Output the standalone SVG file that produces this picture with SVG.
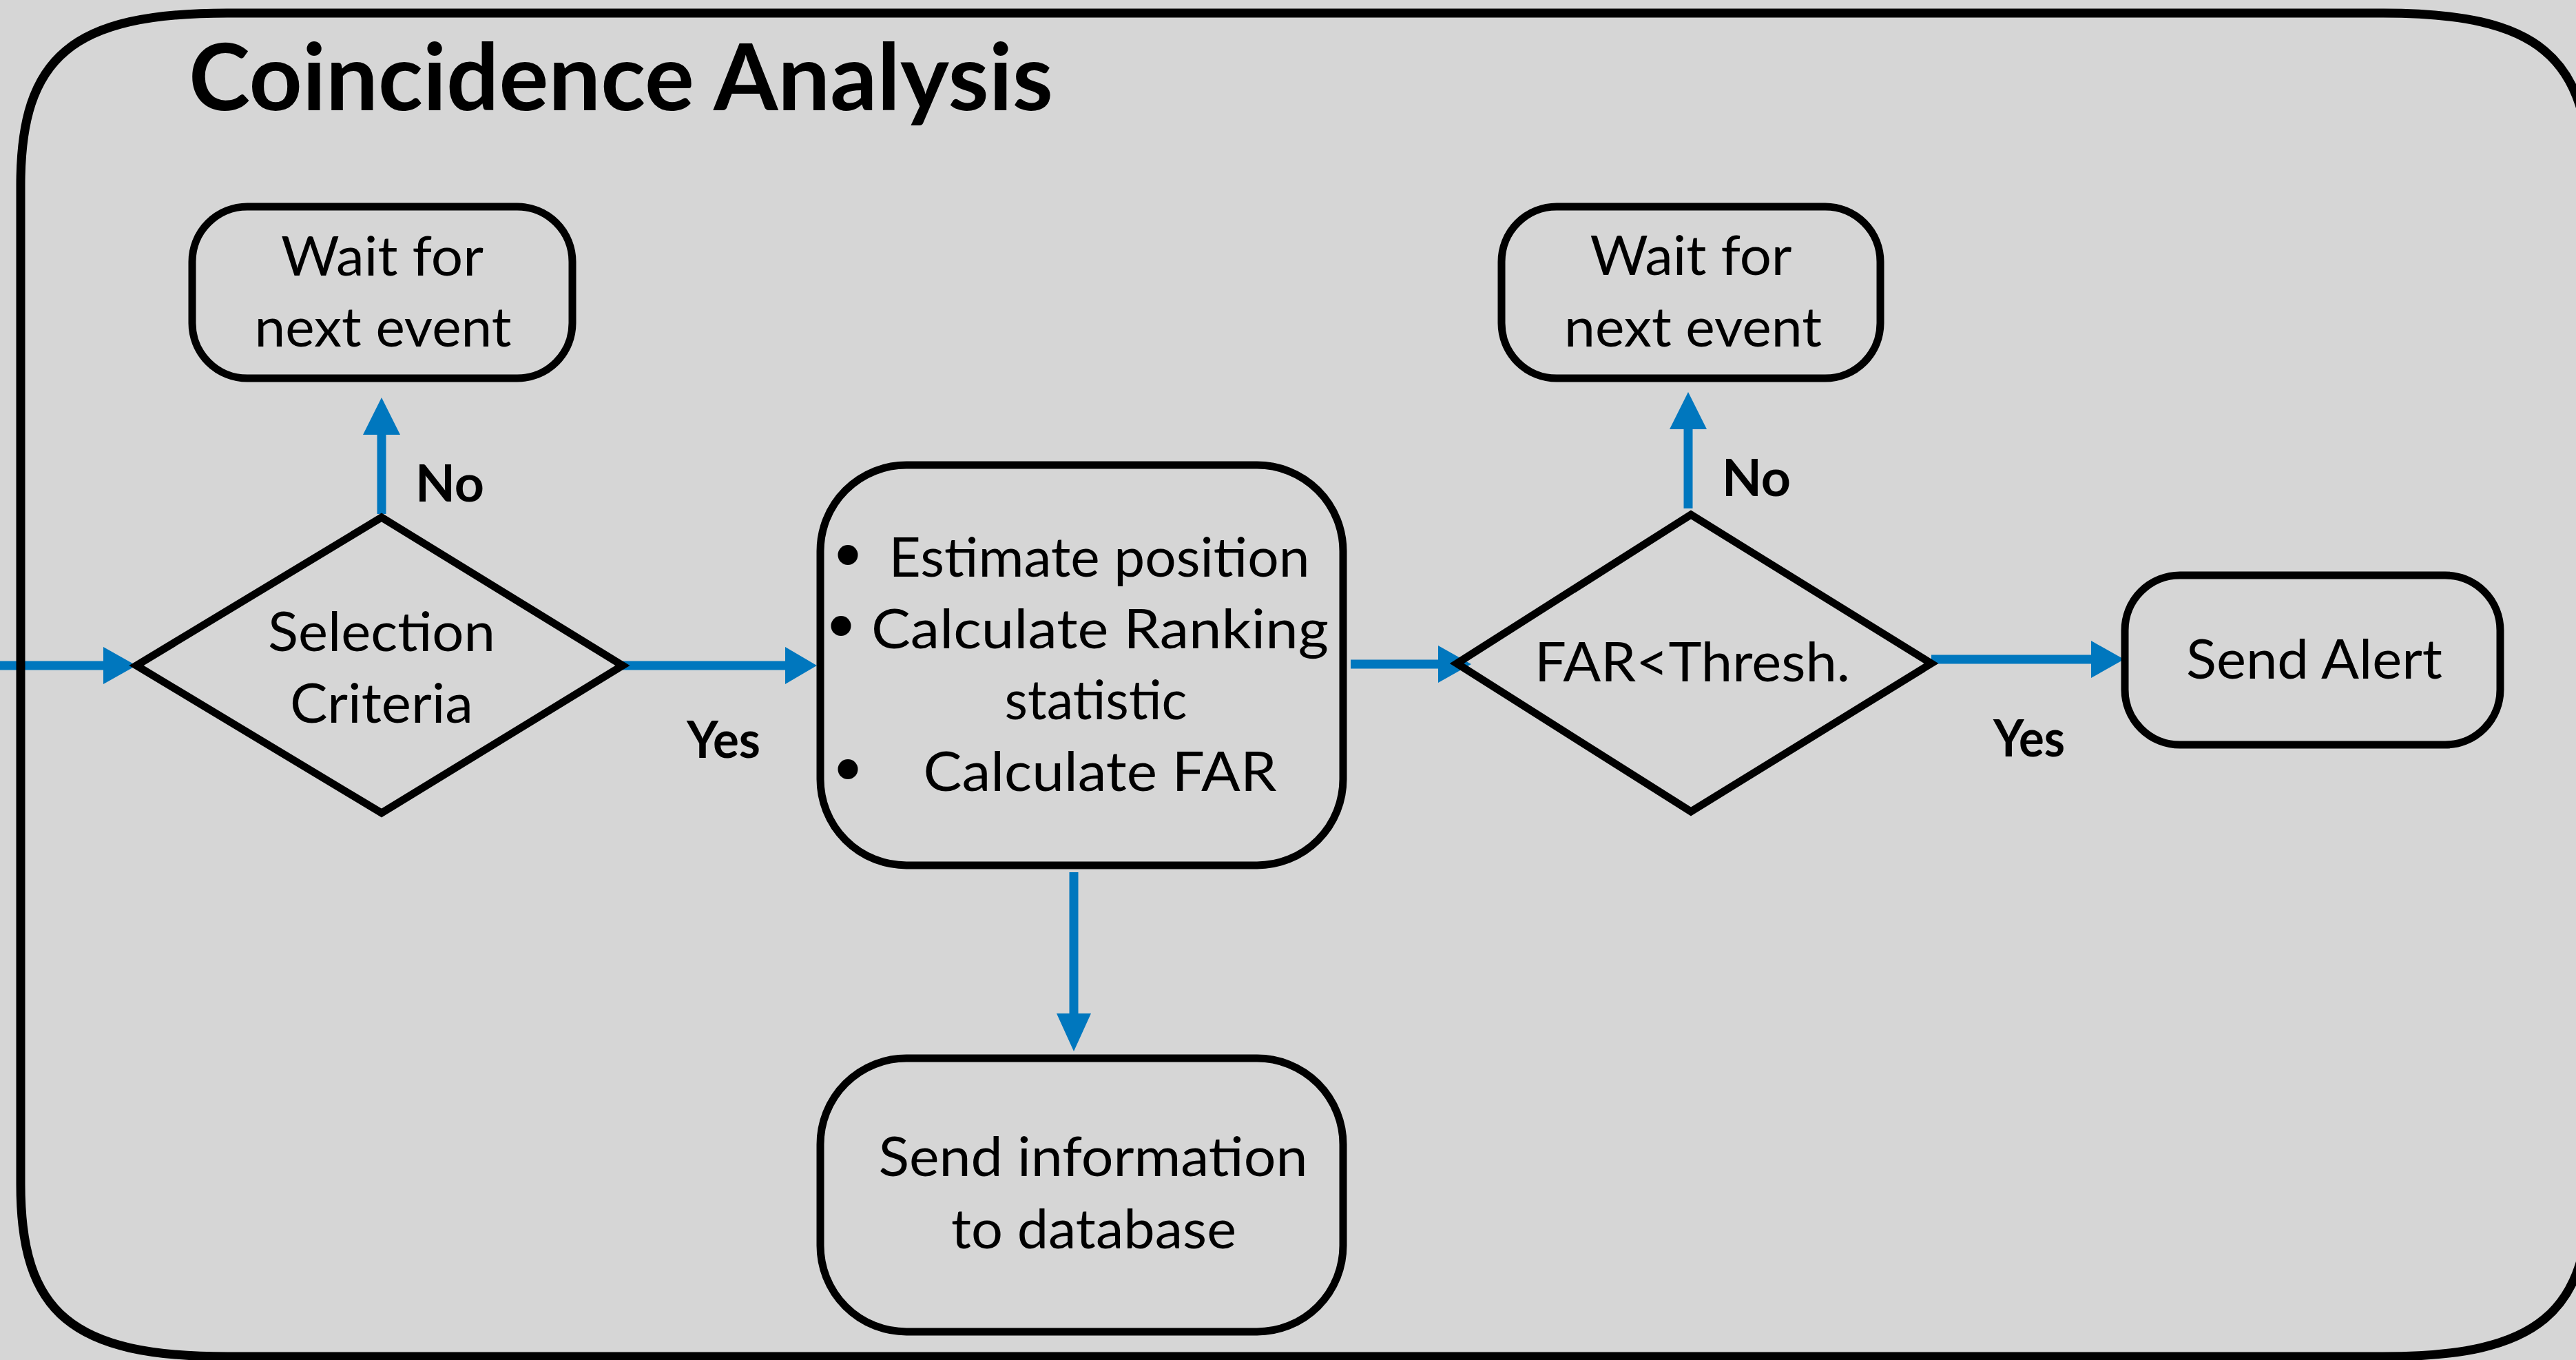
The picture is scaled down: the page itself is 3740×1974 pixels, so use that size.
<svg xmlns="http://www.w3.org/2000/svg" width="3740" height="1974" viewBox="0 0 3740 1974">
  <defs>
    <style>
      .box { fill: none; stroke: #000; stroke-width: 11; }
      .frame { fill: none; stroke: #000; stroke-width: 13; }
      .lbl { font-family: Lato, "Open Sans", "Liberation Sans", sans-serif; font-size: 80px; fill: #000; text-anchor: middle; }
      .bold { font-family: Lato, "Open Sans", "Liberation Sans", sans-serif; font-size: 75px; font-weight: bold; fill: #000; }
      .title { font-family: Lato, "Open Sans", "Liberation Sans", sans-serif; font-size: 135px; font-weight: bold; fill: #000; }
      .bullet { font-family: "DejaVu Sans", sans-serif; font-size: 100px; fill: #000; text-anchor: middle; }
      .flow { stroke: #0077BE; stroke-width: 13; fill: none; }
      .head { fill: #0077BE; }
    </style>
  </defs>

  <!-- background -->
  <rect x="0" y="0" width="3740" height="1974" fill="#d6d6d6"/>

  <!-- connectors -->
  <g id="connectors">
    <!-- entry into selection criteria -->
    <line class="flow" x1="0" y1="966" x2="152" y2="966"/>
    <polygon class="head" points="150,939 198,966 150,993"/>
    <!-- selection -> wait (No) -->
    <line class="flow" x1="554" y1="746" x2="554" y2="628"/>
    <polygon class="head" points="527,631 554,577 581,631"/>
    <!-- selection -> process (Yes) -->
    <line class="flow" x1="904" y1="966" x2="1142" y2="966"/>
    <polygon class="head" points="1140,939 1186,966 1140,993"/>
    <!-- process -> FAR test -->
    <line class="flow" x1="1961" y1="964" x2="2090" y2="964"/>
    <polygon class="head" points="2088,937 2136,964 2088,991"/>
    <!-- FAR test -> wait (No) -->
    <line class="flow" x1="2451" y1="738" x2="2451" y2="620"/>
    <polygon class="head" points="2424,623 2451,569 2478,623"/>
    <!-- FAR test -> alert (Yes) -->
    <line class="flow" x1="2804" y1="957" x2="3038" y2="957"/>
    <polygon class="head" points="3036,930 3084,957 3036,984"/>
    <!-- process -> database -->
    <line class="flow" x1="1559" y1="1266" x2="1559" y2="1474"/>
    <polygon class="head" points="1534,1471 1559,1526 1584,1471"/>
  </g>

  <!-- outer frame: squarish rounded corners -->
  <g id="frame">
    <path class="frame" d="M330,19 H3460 C3685,19 3760,81.5 3760,269 V1719 C3760,1906.5 3685,1969 3460,1969 H330 C105,1969 30,1906.5 30,1719 V269 C30,81.5 105,19 330,19 Z"/>
    <text class="title" x="274" y="160" textLength="1255" lengthAdjust="spacingAndGlyphs">Coincidence Analysis</text>
  </g>

  <g id="wait-left">
    <rect class="box" x="279" y="300" width="552" height="249" rx="80"/>
    <text class="lbl" x="555" y="400" textLength="294" lengthAdjust="spacingAndGlyphs">Wait for</text>
    <text class="lbl" x="556" y="503" textLength="373" lengthAdjust="spacingAndGlyphs">next event</text>
  </g>

  <g id="selection">
    <polygon class="box" points="554,751 904,966 554,1180 198,966"/>
    <text class="lbl" x="554" y="945" textLength="330" lengthAdjust="spacingAndGlyphs">Selection</text>
    <text class="lbl" x="554" y="1049" textLength="266" lengthAdjust="spacingAndGlyphs">Criteria</text>
  </g>

  <g id="process">
    <rect class="box" x="1191" y="675" width="759" height="581" rx="125"/>
    <text class="bullet" x="1231" y="843">•</text>
    <text class="lbl" x="1596" y="837" textLength="611" lengthAdjust="spacingAndGlyphs">Estimate position</text>
    <text class="bullet" x="1221" y="946">•</text>
    <text class="lbl" x="1597" y="941" textLength="664" lengthAdjust="spacingAndGlyphs">Calculate Ranking</text>
    <text class="lbl" x="1591" y="1044" textLength="265" lengthAdjust="spacingAndGlyphs">statistic</text>
    <text class="bullet" x="1231" y="1154">•</text>
    <text class="lbl" x="1597" y="1148" textLength="513" lengthAdjust="spacingAndGlyphs">Calculate FAR</text>
  </g>

  <g id="database">
    <rect class="box" x="1191" y="1536" width="759" height="397" rx="125"/>
    <text class="lbl" x="1587" y="1707" textLength="623" lengthAdjust="spacingAndGlyphs">Send information</text>
    <text class="lbl" x="1588" y="1812" textLength="414" lengthAdjust="spacingAndGlyphs">to database</text>
  </g>

  <g id="far-test">
    <polygon class="box" points="2455,747 2804,963 2455,1178 2115,963"/>
    <text class="lbl" x="2457" y="989" textLength="458" lengthAdjust="spacingAndGlyphs">FAR&lt;Thresh.</text>
  </g>

  <g id="wait-right">
    <rect class="box" x="2180" y="300" width="550" height="249" rx="80"/>
    <text class="lbl" x="2455" y="399" textLength="293" lengthAdjust="spacingAndGlyphs">Wait for</text>
    <text class="lbl" x="2458" y="503" textLength="374" lengthAdjust="spacingAndGlyphs">next event</text>
  </g>

  <g id="alert">
    <rect class="box" x="3085" y="835" width="545" height="246" rx="80"/>
    <text class="lbl" x="3360" y="985" textLength="372" lengthAdjust="spacingAndGlyphs">Send Alert</text>
  </g>

  <g id="labels">
    <text class="bold" x="603" y="728" textLength="100" lengthAdjust="spacingAndGlyphs">No</text>
    <text class="bold" x="2500" y="720" textLength="100" lengthAdjust="spacingAndGlyphs">No</text>
    <text class="bold" x="997" y="1100" textLength="107" lengthAdjust="spacingAndGlyphs">Yes</text>
    <text class="bold" x="2894" y="1098" textLength="104" lengthAdjust="spacingAndGlyphs">Yes</text>
  </g>
</svg>
